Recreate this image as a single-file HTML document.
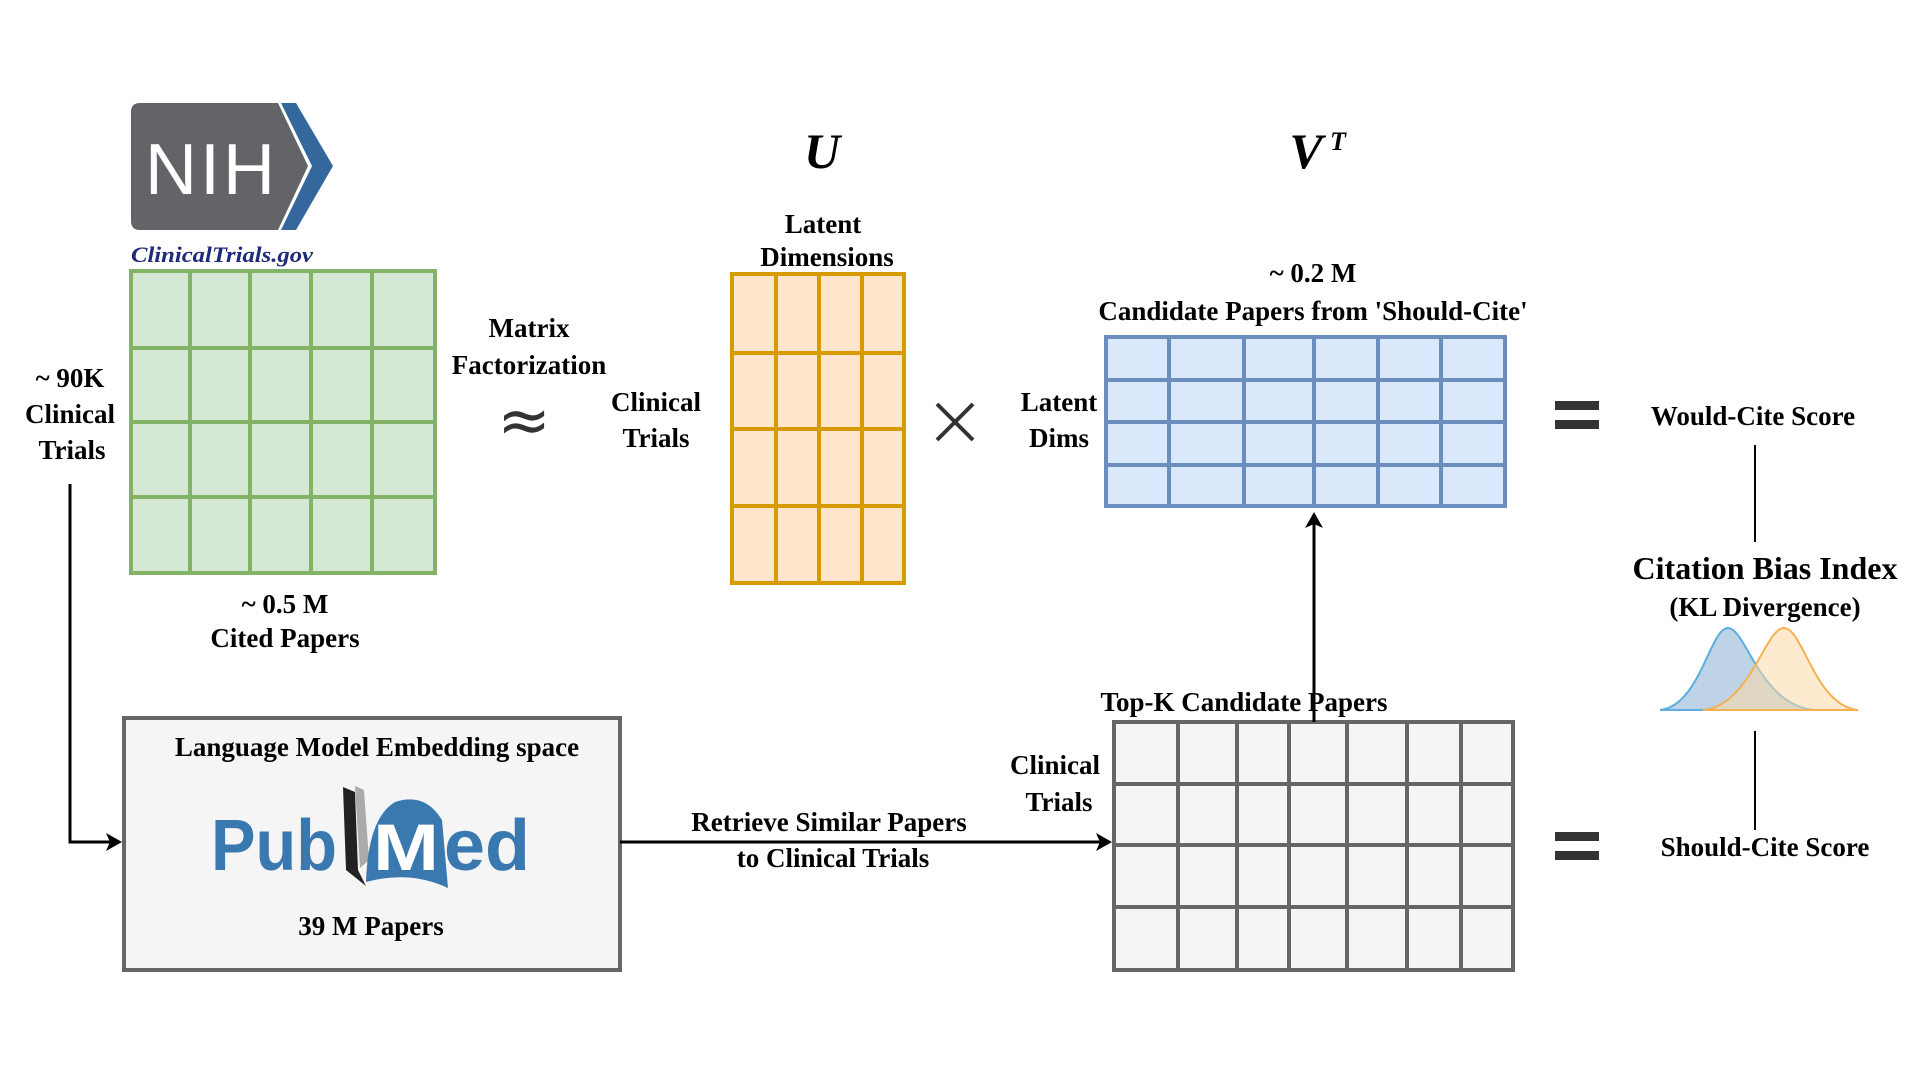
<!DOCTYPE html>
<html><head><meta charset="utf-8"><style>
html,body{margin:0;padding:0;background:#fff;}
svg{display:block;}
text{font-family:"Liberation Serif",serif;font-weight:bold;fill:#000;}
</style></head><body>
<svg width="1920" height="1080" viewBox="0 0 1920 1080" xmlns="http://www.w3.org/2000/svg">
<!-- NIH logo -->
<path d="M140,103 H278 L308,166 L278,230 H140 Q131,230 131,221 V112 Q131,103 140,103 Z" fill="#636468"/>
<path d="M281,103 H296 L333,166 L296,230 H281 L312,166 Z" fill="#34679c"/>
<text x="145" y="194" font-size="72" style="font-family:'Liberation Sans',sans-serif;font-weight:normal;fill:#fff" textLength="130">NIH</text>
<text x="131" y="262" font-size="22" font-style="italic" style="fill:#1f2a7a" textLength="182" lengthAdjust="spacingAndGlyphs">ClinicalTrials.gov</text>

<!-- Green matrix -->
<g stroke="#82b366" stroke-width="4" fill="none">
<rect x="131" y="271" width="304" height="302" fill="#d5e8d4"/>
<path d="M190,271V573 M250,271V573 M311,271V573 M372,271V573 M131,348H435 M131,422H435 M131,497H435"/>
</g>
<!-- Orange matrix -->
<g stroke="#d79b00" stroke-width="4" fill="none">
<rect x="732" y="274" width="172" height="309" fill="#ffe6cc"/>
<path d="M776,274V583 M819,274V583 M862,274V583 M732,353H904 M732,429H904 M732,506H904"/>
</g>
<!-- Blue matrix -->
<g stroke="#6c8ebf" stroke-width="4" fill="none">
<rect x="1106" y="337" width="399" height="169" fill="#dae8fc"/>
<path d="M1169,337V506 M1244,337V506 M1314,337V506 M1378,337V506 M1441,337V506 M1106,380H1505 M1106,422H1505 M1106,465H1505"/>
</g>
<!-- Gray matrix -->
<g stroke="#666" stroke-width="4" fill="none">
<rect x="1114" y="722" width="399" height="248" fill="#f5f5f5"/>
<path d="M1178,722V970 M1237,722V970 M1289,722V970 M1347,722V970 M1407,722V970 M1461,722V970 M1114,784H1513 M1114,845H1513 M1114,907H1513"/>
</g>
<!-- PubMed box -->
<rect x="124" y="718" width="496" height="252" fill="#f5f5f5" stroke="#666" stroke-width="4"/>

<!-- connectors -->
<g stroke="#000" stroke-width="3" fill="none">
<path d="M70,484 V842 H112"/>
<path d="M620,842 H1100"/>
<path d="M1314,722 V522"/>
</g>

<g font-size="27" text-anchor="middle">
<text x="70" y="387">~ 90K</text>
<text x="70" y="423">Clinical</text>
<text x="72" y="459">Trials</text>
<text x="285" y="613">~ 0.5 M</text>
<text x="285" y="647">Cited Papers</text>
<text x="529" y="337">Matrix</text>
<text x="529" y="374">Factorization</text>
<text x="656" y="411">Clinical</text>
<text x="656" y="447">Trials</text>
<text x="823" y="233">Latent</text>
<text x="827" y="266">Dimensions</text>
<text x="1059" y="411">Latent</text>
<text x="1059" y="447">Dims</text>
<text x="1313" y="282">~ 0.2 M</text>
<text x="1313" y="320">Candidate Papers from 'Should-Cite'</text>
<text x="1753" y="425">Would-Cite Score</text>
<text x="1765" y="856">Should-Cite Score</text>
<text x="377" y="756">Language Model Embedding space</text>
<text x="371" y="935">39 M Papers</text>
<text x="829" y="831">Retrieve Similar Papers</text>
<text x="833" y="867">to Clinical Trials</text>
<text x="1244" y="711">Top-K Candidate Papers</text>
<text x="1055" y="774">Clinical</text>
<text x="1059" y="811">Trials</text>
<text x="1765" y="579" font-size="32">Citation Bias Index</text>
<text x="1765" y="616">(KL Divergence)</text>
</g>
<text x="524" y="442" font-size="64" text-anchor="middle" style="font-family:'DejaVu Sans',sans-serif;font-weight:normal;fill:#333">≈</text>
<path d="M937,404 L973,440 M973,404 L937,440" stroke="#333" stroke-width="4"/>
<text x="822" y="168" font-size="50" font-style="italic" text-anchor="middle">U</text>
<text x="1306" y="168" font-size="50" font-style="italic" text-anchor="middle">V</text>
<text x="1330" y="150" font-size="26" font-style="italic">T</text>

<text x="211" y="870" font-size="72" style="font-family:'Liberation Sans',sans-serif;font-weight:bold;fill:#3a78b0" textLength="126" lengthAdjust="spacingAndGlyphs">Pub</text>
<path d="M343,787 L355,792 L358,870 L366,886 L346,870 Z" fill="#222"/>
<path d="M355,786 L364,790 L369,860 L360,868 Z" fill="#aaa"/>
<path d="M366,882 Q368,818 395,802 Q425,792 442,820 L448,888 Q410,870 366,882 Z" fill="#3a78b0"/>
<text x="373" y="870" font-size="66" style="font-family:'Liberation Sans',sans-serif;font-weight:bold;fill:#fff" textLength="66" lengthAdjust="spacingAndGlyphs">M</text>
<text x="444" y="870" font-size="72" style="font-family:'Liberation Sans',sans-serif;font-weight:bold;fill:#3a78b0" textLength="86" lengthAdjust="spacingAndGlyphs">ed</text>

<path d="M122,842 L106,833 L110,842 L106,851 Z" fill="#000"/>
<path d="M1112,842 L1096,833 L1100,842 L1096,851 Z" fill="#000"/>
<path d="M1314,512 L1305,528 L1314,524 L1323,528 Z" fill="#000"/>
<g stroke="#000" stroke-width="2">
<path d="M1755,445 V542 M1755,731 V830"/>
</g>
<!-- equals -->
<g fill="#333">
<rect x="1555" y="401" width="44" height="9"/><rect x="1555" y="420" width="44" height="9"/>
<rect x="1555" y="832" width="44" height="9"/><rect x="1555" y="851" width="44" height="9"/>
</g>
<!-- distributions -->
<path d="M1660,710 C1700,706 1710,628 1728,628 C1746,628 1760,706 1815,710 Z" fill="#7fa8cf" fill-opacity="0.5" stroke="#5aaee0" stroke-width="2"/>
<path d="M1703,710 C1750,706 1765,628 1784,628 C1803,628 1815,706 1858,710 Z" fill="#fcd9a8" fill-opacity="0.55" stroke="#f5b04f" stroke-width="2"/>
</svg>
</body></html>
